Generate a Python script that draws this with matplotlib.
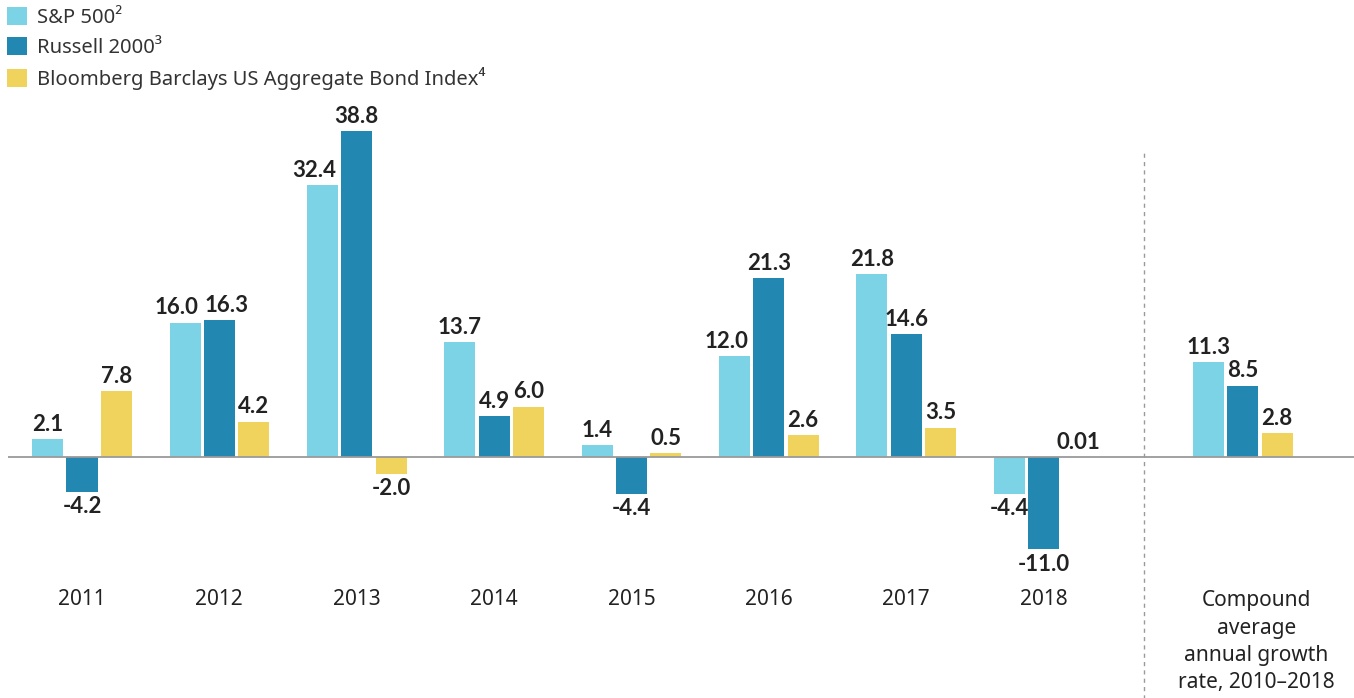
import matplotlib.pyplot as plt
import numpy as np

plt.rcParams['font.family'] = ['Noto Sans', 'DejaVu Sans']
bold_family = ['Lato', 'DejaVu Sans']

# data
groups = ['2011', '2012', '2013', '2014', '2015', '2016', '2017', '2018',
          'Compound\naverage\nannual growth\nrate, 2010\u20132018']
sp500 = [2.1, 16.0, 32.4, 13.7, 1.4, 12.0, 21.8, -4.4, 11.3]
russell = [-4.2, 16.3, 38.8, 4.9, -4.4, 21.3, 14.6, -11.0, 8.5]
bonds = [7.8, 4.2, -2.0, 6.0, 0.5, 2.6, 3.5, 0.01, 2.8]
series_names = ['S&P 500\u00b2', 'Russell 2000\u00b3',
                'Bloomberg Barclays US Aggregate Bond Index\u2074']
colors = ['#7dd3e6', '#2287b1', '#efd35d']
text_color = '#222222'

fig = plt.figure(figsize=(13.54, 6.98), dpi=100)
ax = fig.add_axes([0, 0, 1, 1])

x = np.array([0, 1, 2, 3, 4, 5, 6, 7, 8.45])
width = 0.226
step = 0.25
all_vals = [sp500, russell, bonds]

for k, (vals, name, col) in enumerate(zip(all_vals, series_names, colors)):
    xs = x + (k - 1) * step
    ax.bar(xs, vals, width=width, color=col, label=name, zorder=2)
    for i, (xi, v) in enumerate(zip(xs, vals)):
        txt = f'{v:.2f}' if abs(v) < 0.1 and v != 0 else f'{v:.1f}'
        # nudge labels away from a taller neighbour or one at the same height
        dx = 0
        if k == 0 and v > 0 and all_vals[1][i] > v - 2.5:
            dx = -0.06
        if k == 1 and v > 0 and abs(all_vals[0][i] - v) < 2.5:
            dx = 0.05
        if v >= 0:
            ax.text(xi + dx, v + 0.5, txt, ha='center', va='bottom', fontsize=16,
                    fontweight='bold', color=text_color, family=bold_family)
        else:
            ax.text(xi + dx, v - 0.5, txt, ha='center', va='top', fontsize=16,
                    fontweight='bold', color=text_color, family=bold_family)

# zero line and separator
ax.hlines(0, -0.54, 9.3, color='#9a9a9a', lw=1.3, zorder=3)
ax.vlines(7.73, -30, 36.2, color='#9a9a9a', lw=1, linestyles=(0, (3, 3)))

# category labels
for xi, g in zip(x[:-1], groups[:-1]):
    ax.text(xi, -17.0, g, ha='center', va='center', fontsize=15, color=text_color)
ax.text(x[-1] + 0.1, -15.9, groups[-1], ha='center', va='top', fontsize=15,
        color=text_color, linespacing=1.38)

ax.set_xlim(-0.597, 9.26)
ax.set_ylim(-28.7, 54.4)
ax.axis('off')

leg = ax.legend(loc='upper left', bbox_to_anchor=(0.005, 0.99), frameon=False,
                fontsize=14.5, handlelength=1.0, handleheight=1.0,
                labelspacing=0.45, handletextpad=0.5, borderpad=0, borderaxespad=0)
for t in leg.get_texts():
    t.set_color('#333333')

fig.savefig('out.png', dpi=100)
